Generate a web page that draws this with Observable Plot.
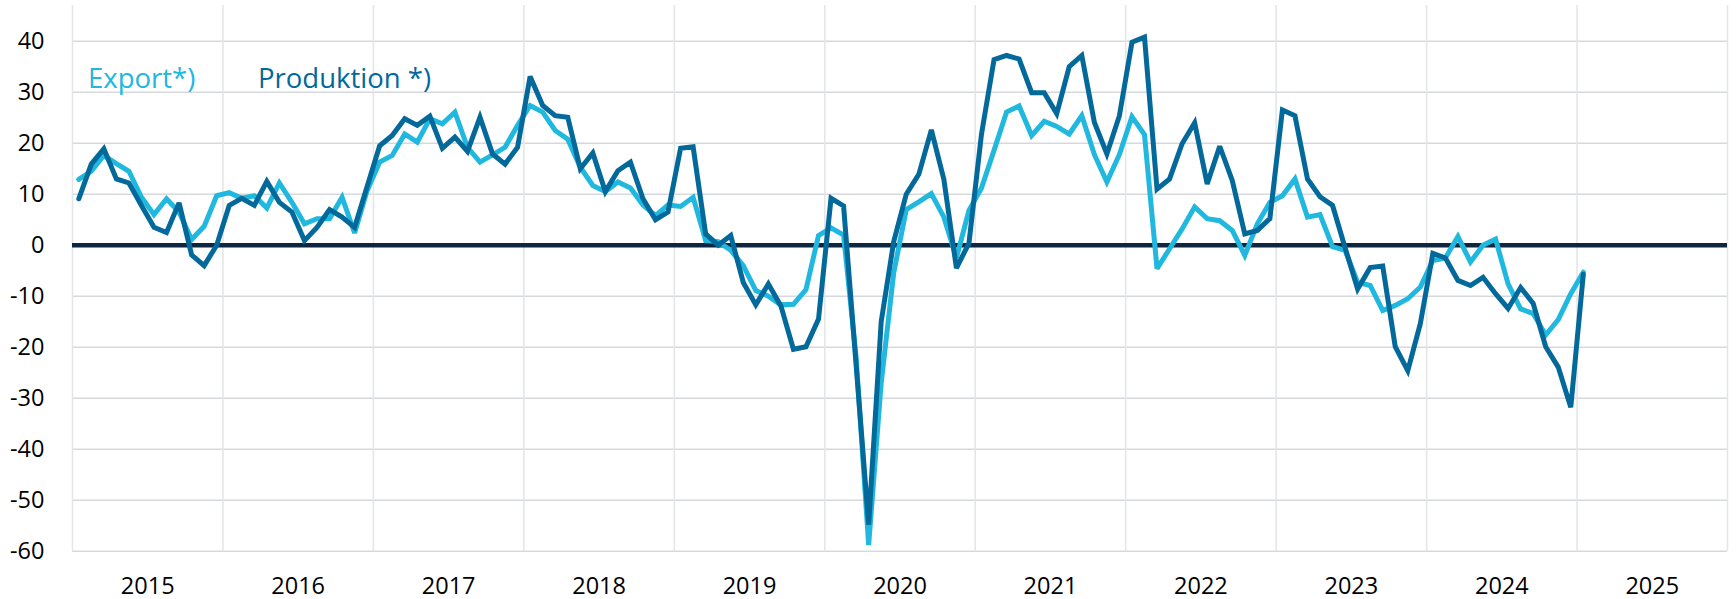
<!DOCTYPE html>
<html>
<head>
<meta charset="utf-8">
<script src="https://cdn.jsdelivr.net/npm/d3@7"></script>
<script src="https://cdn.jsdelivr.net/npm/@observablehq/plot@0.6"></script>
<style>
  html, body { margin: 0; padding: 0; background: #ffffff; }
  svg { display: block; }
</style>
</head>
<body>
<div id="chart"></div>
<script>
// ---- Data (monthly, Jan 2015 – Jan 2025) ----
const startYear = 2015;
const yearLabels = ["2015","2016","2017","2018","2019","2020","2021","2022","2023","2024","2025"];
const gridYears = [2015,2016,2017,2018,2019,2020,2021,2022,2023,2024,2025,2026];
const yTicks = [-60,-50,-40,-30,-20,-10,0,10,20,30,40];
const seriesNames = ["Export*)", "Produktion *)"];
const seriesColors = ["#20B8DF", "#03699A"];

const exportValues = [
  12.9, 14.5, 17.6, 16.0, 14.5, 9.4, 6.0, 9.1, 6.5, 1.1, 3.7, 9.7,
  10.3, 9.2, 9.7, 7.3, 12.2, 8.4, 4.2, 5.2, 5.2, 9.4, 2.4, 10.7,
  16.3, 17.6, 21.8, 20.2, 24.8, 23.8, 26.1, 19.2, 16.3, 17.7, 19.2, 23.5,
  27.4, 26.1, 22.5, 20.8, 15.3, 11.7, 10.5, 12.4, 11.2, 7.9, 5.8, 7.9,
  7.6, 9.4, 0.9, 0.7, -1.0, -4.0, -8.9, -10.0, -11.7, -11.6, -8.7, 1.9,
  3.4, 2.0, -22.0, -58.8, -27.0, -5.4, 7.0, 8.5, 10.1, 5.5, -2.5, 6.8,
  11.2, 18.6, 26.1, 27.3, 21.5, 24.3, 23.3, 21.8, 25.4, 17.8, 12.4, 17.8,
  25.2, 21.7, -4.6, -0.7, 3.2, 7.5, 5.2, 4.8, 2.9, -2.0, 4.2, 8.4,
  9.7, 13.0, 5.5, 6.0, -0.3, -1.0, -7.3, -7.9, -12.8, -11.8, -10.5, -8.2,
  -3.0, -2.5, 1.7, -3.3, 0.0, 1.2, -7.6, -12.5, -13.4, -17.6, -14.6, -9.5,
  -5.3
];

const produktionValues = [
  9.1, 15.9, 18.9, 13.0, 12.2, 7.8, 3.5, 2.5, 8.3, -1.9, -4.0, 0.0,
  7.8, 9.2, 7.8, 12.5, 8.4, 6.5, 0.9, 3.5, 7.0, 5.5, 3.5, 11.5,
  19.5, 21.5, 24.8, 23.5, 25.3, 19.0, 21.2, 18.4, 25.1, 17.9, 15.9, 19.2,
  33.1, 27.4, 25.4, 25.1, 15.0, 18.1, 10.5, 14.6, 16.3, 9.1, 5.0, 6.5,
  19.0, 19.3, 2.2, 0.0, 1.9, -7.3, -11.7, -7.6, -11.9, -20.4, -19.9, -14.5,
  9.2, 7.7, -23.5, -54.8, -15.0, 0.7, 10.0, 13.9, 22.6, 12.9, -4.5, 0.4,
  21.8, 36.4, 37.2, 36.5, 29.9, 29.9, 25.8, 35.0, 37.2, 24.1, 17.9, 25.4,
  39.8, 40.8, 11.0, 13.0, 19.9, 24.0, 12.0, 19.4, 12.7, 2.2, 2.9, 5.2,
  26.5, 25.4, 13.0, 9.5, 7.8, -0.5, -8.6, -4.4, -4.1, -19.9, -24.6, -15.4,
  -1.6, -2.5, -6.9, -7.9, -6.3, -9.5, -12.4, -8.3, -11.4, -19.9, -23.9, -31.8,
  -5.7
];

// month index -> fractional year at mid-month
const monthPos = i => startYear + (i + 0.5) / 12;
const exportRows = exportValues.map((v, i) => ({t: monthPos(i), v}));
const prodRows = produktionValues.map((v, i) => ({t: monthPos(i), v}));

const fontFamily = "'Open Sans', 'DejaVu Sans', sans-serif";

const chart = Plot.plot({
  width: 1736,
  height: 599,
  marginLeft: 72,
  marginRight: 9,
  marginTop: 5,
  marginBottom: 48.3,
  style: {fontFamily, background: "#ffffff", color: "#000000", overflow: "visible"},
  x: {type: "linear", domain: [2015, 2026], axis: null, label: null},
  y: {domain: [-60, 47], axis: null, label: null},
  marks: [
    Plot.ruleY(yTicks.filter(d => d !== 0), {stroke: "#D6D9DC", strokeWidth: 1.6}),
    Plot.ruleX(gridYears, {stroke: "#E4E6E8", strokeWidth: 1.6}),
    Plot.ruleY([0], {stroke: "#0F2640", strokeWidth: 4.6}),
    Plot.line(exportRows, {x: "t", y: "v", stroke: seriesColors[0], strokeWidth: 5, strokeLinejoin: "miter", strokeMiterlimit: 3}),
    Plot.line(prodRows, {x: "t", y: "v", stroke: seriesColors[1], strokeWidth: 5, strokeLinejoin: "miter", strokeMiterlimit: 3}),
    Plot.axisY({ticks: yTicks, tickSize: 0, tickPadding: 28, tickFormat: d => String(d), fontSize: 23.5, fill: "#000000", label: null}),
    Plot.axisX({ticks: yearLabels.map(y => +y + 0.5), tickSize: 0, tickPadding: 26, tickFormat: d => String(Math.floor(d)), fontSize: 23.5, fill: "#000000", label: null})
  ]
});

// Legend as inline text labels
const svg = d3.select(chart);
const legendX = [88, 258];
seriesNames.forEach((name, i) => {
  svg.append("text")
    .attr("x", legendX[i])
    .attr("y", 88)
    .attr("text-anchor", "start")
    .attr("fill", seriesColors[i])
    .attr("font-size", 27.5)
    .attr("font-family", fontFamily)
    .text(name);
});

document.getElementById("chart").appendChild(chart);
</script>
</body>
</html>
